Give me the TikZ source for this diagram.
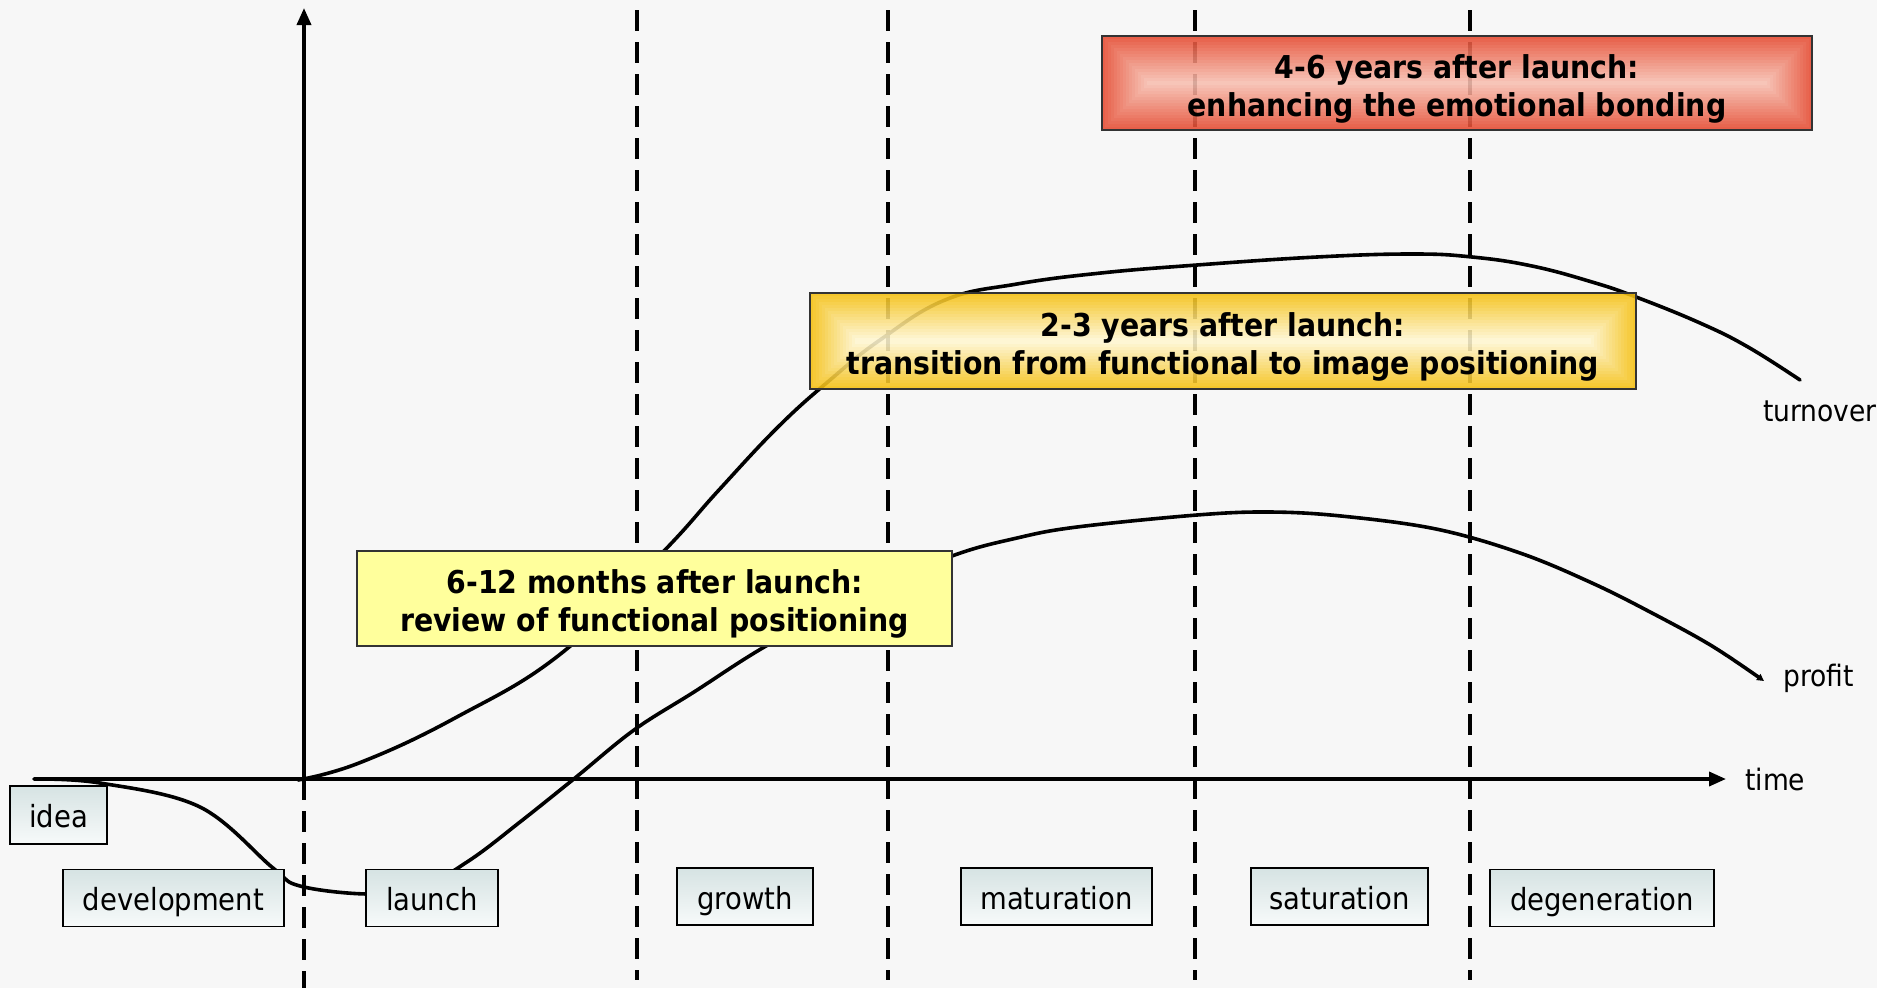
\documentclass[tikz,border=0pt]{standalone}
\usepackage{fontspec}
\setmainfont{DejaVu Sans Condensed}
\usetikzlibrary{arrows.meta,calc}

\definecolor{bg}{HTML}{F7F7F7}
\definecolor{redout}{HTML}{E64B32}
\definecolor{redin}{HTML}{F7BFB0}
\definecolor{goldout}{HTML}{F5C010}
\definecolor{goldin}{HTML}{FFF6D0}
\definecolor{pale}{HTML}{FFFF9C}
\definecolor{tagtop}{HTML}{D6E3E3}
\definecolor{tagbot}{HTML}{F7FAFA}

\tikzset{
  axis/.style={line width=3.6pt, -{Triangle[length=17pt,width=14pt]}},
  phase/.style={line width=3.4pt, dash pattern=on 21pt off 11pt},
  curve/.style={line width=3.6pt, line join=round, line cap=round},
  tag/.style={draw=black, line width=1.6pt, top color=tagtop, bottom color=tagbot,
    font=\fontsize{30.5}{36}\selectfont, inner sep=0pt, minimum height=57pt,
    text height=29pt, text depth=4pt},
  frame/.style={draw=black!80, line width=1.6pt, inner sep=0pt},
  note/.style={inner sep=0pt, font=\bfseries\fontsize{31.5}{38}\selectfont, align=center},
  lbl/.style={font=\fontsize{29.5}{34}\selectfont, anchor=west, inner sep=0pt}
}

% banded fill shrinking towards the centre line of a box:
% #1 top-left corner, #2 bottom-right corner, #3 edge colour, #4 centre colour, #5 opacity
\newcommand\bandfill[5]{%
  \begin{scope}[transparency group, opacity=#5]
    \foreach \i in {0,...,15}{%
      \pgfmathsetmacro\p{100*\i/15}
      \fill[#4!\p!#3] ($(#1)+(3*\i,3*\i)$) rectangle ($(#2)+(-3*\i,-3*\i)$);
    }
  \end{scope}}

\begin{document}
\begin{tikzpicture}[x=1pt,y=-1pt]
  \fill[bg] (0,0) rectangle (1877,988);
  \useasboundingbox (0,0) rectangle (1877,988);

  % key points of the axes
  \coordinate (O) at (304,779);
  \coordinate (ytop) at (304,8);
  \coordinate (ybot) at (304,988);
  \coordinate (xstart) at (34,779);
  \coordinate (xend) at (1726,779);

  % phase separators
  \foreach \x [count=\k] in {637,888,1195,1470}{
    \coordinate (s\k top) at (\x,10);
    \coordinate (s\k bot) at (\x,980);
    \draw[phase] (s\k top) -- (s\k bot);
  }
  \draw[phase] (O) -- (ybot);

  % turnover curve
  \draw[curve] plot[smooth, tension=0.7] coordinates {
    (298,780) (359,763) (455,718) (563,652) (664,551) (718,491)
    (778,427) (830,380) (880,340) (945,300) (1017,284) (1101,273) (1197,265)
    (1317,257) (1412,254) (1472,257) (1532,266) (1592,282) (1636,297)
    (1700,323) (1748,347) (1800,380)};

  % profit curve
  \draw[curve, -{Triangle[length=7pt,width=7pt]}] plot[smooth, tension=0.6] coordinates {
    (34,779) (100,783) (200,807) (273,868) (300,886) (367,894) (420,888)
    (470,860) (520,822) (575,778) (634,730) (694,692) (766,646) (860,596)
    (952,556) (1017,538) (1077,527) (1197,515) (1269,512) (1341,516)
    (1436,529) (1520,553) (1592,583) (1652,613) (1712,646) (1764,681)};

  % axes
  \draw[axis] (O) -- (ytop);
  \draw[axis] (xstart) -- (xend);

  % notes
  \bandfill{1102,36}{1812,130}{redout}{redin}{0.88}
  \node[frame, minimum width=710pt, minimum height=94pt] (n3) at (1457,83) {};
  \node[note] (n3text) at ($(n3)+(0,6)$)
    {4-6 years after launch:\\enhancing the emotional bonding};

  \bandfill{810,293}{1636,389}{goldout}{goldin}{0.88}
  \node[frame, minimum width=826pt, minimum height=96pt] (n2) at (1223,341) {};
  \node[note] (n2text) at ($(n2)+(0,6)$)
    {2-3 years after launch:\\transition from functional to image positioning};

  \node[frame, fill=pale, minimum width=595pt, minimum height=95pt] (n1) at (654.5,598.5) {};
  \node[note] (n1text) at ($(n1)+(0,5)$)
    {6-12 months after launch:\\review of functional positioning};

  % phase tags
  \node[tag, minimum width=97pt, minimum height=58pt] (idea) at (58.5,815) {idea};
  \node[tag, minimum width=221pt] (dev) at (173.5,898) {development};
  \node[tag, minimum width=132pt] (launch) at (432,898) {launch};
  \node[tag, minimum width=136pt] (growth) at (745,896.5) {growth};
  \node[tag, minimum width=191pt] (mat) at (1056.5,896.5) {maturation};
  \node[tag, minimum width=177pt] (sat) at (1339.5,896.5) {saturation};
  \node[tag, minimum width=224pt] (deg) at (1602,898) {degeneration};

  % curve and axis labels
  \node[lbl] (turnover) at (1763,411) {turnover};
  \node[lbl] (profit) at (1783,678) {profit};
  \node[lbl] (time) at (1745,779) {time};
\end{tikzpicture}
\end{document}
